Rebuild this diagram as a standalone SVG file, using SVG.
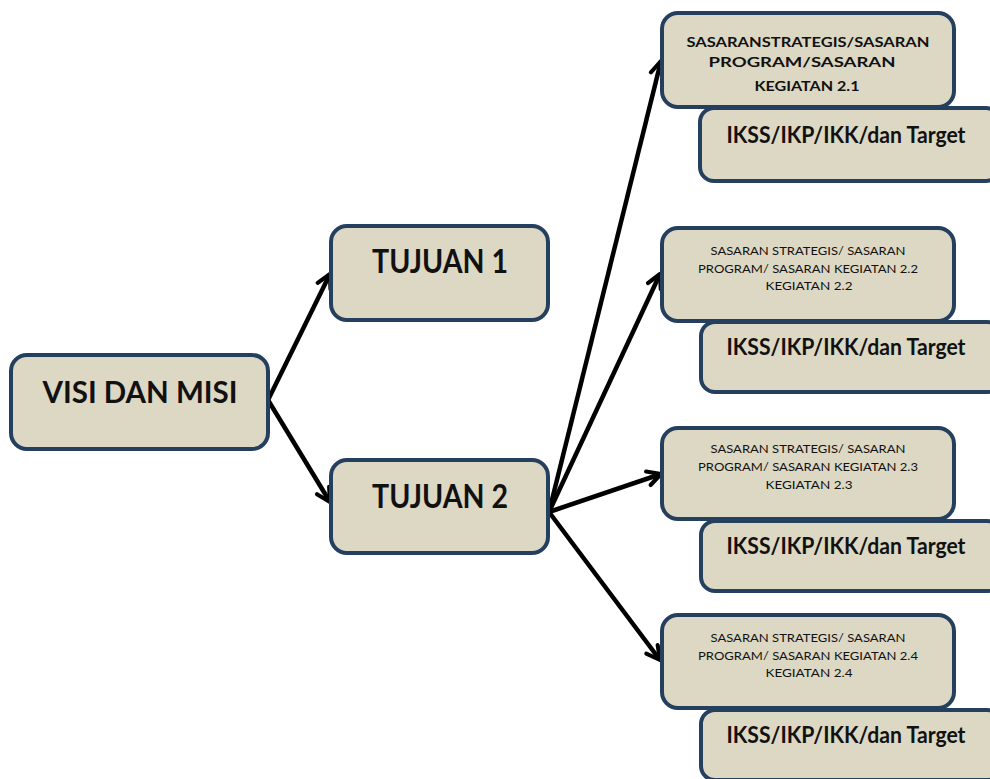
<svg xmlns="http://www.w3.org/2000/svg" width="990" height="779" viewBox="0 0 990 779">
<style>
.box{fill:#DDD8C3;stroke:#25405F;stroke-width:4}
.t{font-family:Lato,"Open Sans","Liberation Sans",sans-serif;font-weight:bold;fill:#111;text-anchor:middle}
.s{font-family:Lato,"Open Sans","Liberation Sans",sans-serif;font-weight:normal;fill:#111;text-anchor:middle;font-size:11.5px}
.c{stroke:#000;stroke-width:4.5;fill:none;marker-end:url(#ah)}
</style>
<defs>
<marker id="ah" viewBox="0 0 12 12" refX="10" refY="6" markerWidth="4.2" markerHeight="4.2" orient="auto" markerUnits="strokeWidth">
<path d="M1.5,1.5 L10,6 L1.5,10.5" fill="none" stroke="#000" stroke-width="2.6" stroke-linecap="round" stroke-linejoin="round"/>
</marker>
</defs>
<rect width="990" height="779" fill="#fff"/>
<g id="connectors">
<line class="c" x1="268" y1="400" x2="330" y2="274"/>
<line class="c" x1="268" y1="400" x2="330" y2="502"/>
<line class="c" x1="549" y1="512" x2="661" y2="61"/>
<line class="c" x1="549" y1="512" x2="660" y2="274"/>
<line class="c" x1="549" y1="512" x2="661" y2="474"/>
<line class="c" x1="549" y1="512" x2="660" y2="660"/>
</g>
<g id="visi">
<rect class="box" x="11" y="355" width="257" height="94" rx="16"/>
<text class="t" x="140" y="403" font-size="31" textLength="195" lengthAdjust="spacingAndGlyphs">VISI DAN MISI</text>
</g>
<g id="tujuan1">
<rect class="box" x="331" y="226" width="217" height="94" rx="16"/>
<text class="t" x="440" y="273" font-size="32" textLength="136" lengthAdjust="spacingAndGlyphs">TUJUAN 1</text>
</g>
<g id="tujuan2">
<rect class="box" x="331" y="460" width="217" height="93" rx="16"/>
<text class="t" x="440" y="508" font-size="32" textLength="136" lengthAdjust="spacingAndGlyphs">TUJUAN 2</text>
</g>
<g id="ikss1">
<rect class="box" x="700" y="108" width="300" height="73" rx="14"/>
<text class="t" x="846" y="143" font-size="23" textLength="239" lengthAdjust="spacingAndGlyphs">IKSS/IKP/IKK/dan Target</text>
</g>
<g id="sasaran1">
<rect class="box" x="662" y="13" width="292" height="94" rx="16"/>
<text class="t" x="808" y="47" font-size="14" textLength="243" lengthAdjust="spacingAndGlyphs">SASARANSTRATEGIS/SASARAN</text>
<text class="t" x="802" y="67" font-size="14" textLength="187" lengthAdjust="spacingAndGlyphs">PROGRAM/SASARAN</text>
<text class="t" x="807" y="91" font-size="14" textLength="105" lengthAdjust="spacingAndGlyphs">KEGIATAN 2.1</text>
</g>
<g id="ikss2">
<rect class="box" x="701" y="322" width="300" height="70" rx="14"/>
<text class="t" x="846" y="355" font-size="23" textLength="239" lengthAdjust="spacingAndGlyphs">IKSS/IKP/IKK/dan Target</text>
</g>
<g id="sasaran2">
<rect class="box" x="662" y="228" width="292" height="93" rx="16"/>
<text class="s" x="808" y="255" textLength="195" lengthAdjust="spacingAndGlyphs">SASARAN STRATEGIS/ SASARAN</text>
<text class="s" x="808" y="273" textLength="220" lengthAdjust="spacingAndGlyphs">PROGRAM/ SASARAN KEGIATAN 2.2</text>
<text class="s" x="809" y="290" textLength="87" lengthAdjust="spacingAndGlyphs">KEGIATAN 2.2</text>
</g>
<g id="ikss3">
<rect class="box" x="701" y="521" width="300" height="70" rx="14"/>
<text class="t" x="846" y="554" font-size="23" textLength="239" lengthAdjust="spacingAndGlyphs">IKSS/IKP/IKK/dan Target</text>
</g>
<g id="sasaran3">
<rect class="box" x="662" y="428" width="292" height="91" rx="16"/>
<text class="s" x="808" y="453" textLength="195" lengthAdjust="spacingAndGlyphs">SASARAN STRATEGIS/ SASARAN</text>
<text class="s" x="808" y="471" textLength="220" lengthAdjust="spacingAndGlyphs">PROGRAM/ SASARAN KEGIATAN 2.3</text>
<text class="s" x="809" y="489" textLength="87" lengthAdjust="spacingAndGlyphs">KEGIATAN 2.3</text>
</g>
<g id="ikss4">
<rect class="box" x="701" y="710" width="300" height="70" rx="14"/>
<text class="t" x="846" y="743" font-size="23" textLength="239" lengthAdjust="spacingAndGlyphs">IKSS/IKP/IKK/dan Target</text>
</g>
<g id="sasaran4">
<rect class="box" x="662" y="615" width="292" height="93" rx="16"/>
<text class="s" x="808" y="642" textLength="195" lengthAdjust="spacingAndGlyphs">SASARAN STRATEGIS/ SASARAN</text>
<text class="s" x="808" y="660" textLength="220" lengthAdjust="spacingAndGlyphs">PROGRAM/ SASARAN KEGIATAN 2.4</text>
<text class="s" x="809" y="677" textLength="87" lengthAdjust="spacingAndGlyphs">KEGIATAN 2.4</text>
</g>
</svg>
